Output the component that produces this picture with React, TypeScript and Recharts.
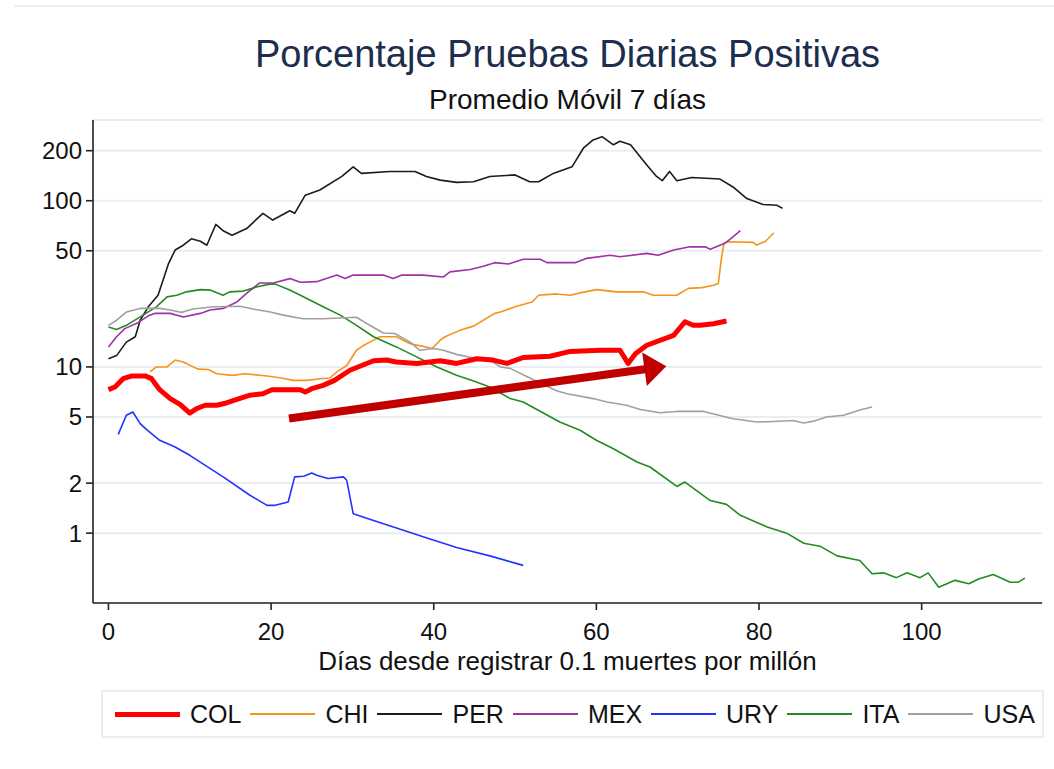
import React from 'react';
import { LineChart, Line, XAxis, YAxis, CartesianGrid, ReferenceLine } from 'recharts';

type Pt = [number, number];

// Days since 0.1 deaths per million -> % positive tests (7-day moving average)
const COL: Pt[] = [
  [0, 7.3], [0.8, 7.58], [1.8, 8.5], [2.9, 8.83], [4.5, 8.83], [5.3, 8.5], [6.3, 7.3], [7.6, 6.45],
  [8.8, 5.96], [10, 5.28], [10.8, 5.6], [11.9, 5.88], [13.3, 5.88], [14.5, 6.07], [15.8, 6.37],
  [17.4, 6.76], [19, 6.9], [20.1, 7.3], [23.6, 7.3], [24.2, 7.07], [25, 7.4], [26.4, 7.75],
  [27.8, 8.3], [29.7, 9.55], [32.6, 10.9], [34.2, 11], [35.4, 10.7], [37.9, 10.5], [40.8, 10.9],
  [42.8, 10.5], [45.3, 11.2], [47.3, 11], [49, 10.5], [51, 11.4], [54.3, 11.6], [56.8, 12.4],
  [60.5, 12.6], [62.9, 12.6], [63.9, 10.5], [64.8, 12], [66.2, 13.5], [69.5, 15.5], [70.9, 18.7],
  [71.9, 17.8], [72.8, 17.8], [74.4, 18.2], [76, 18.9],
];

const CHI: Pt[] = [
  [5.1, 9.33], [5.9, 10], [7.2, 10], [8.2, 11], [9.2, 10.7], [11, 9.7], [12.3, 9.65], [13.3, 9.1],
  [15.2, 8.9], [16.8, 9.1], [19.5, 8.83], [21.3, 8.58], [22.7, 8.3], [24.4, 8.3], [26, 8.5],
  [27.2, 8.58], [28.1, 9.33], [29.3, 10.2], [30.5, 12.6], [31.3, 13.4], [32.6, 14.5], [33.4, 15.2],
  [35.4, 15.2], [37.1, 13.8], [38.7, 13.3], [39.8, 12.9], [40.8, 14.5], [41.4, 15.2], [43.2, 16.6],
  [44.9, 17.6], [46.1, 19.1], [47.5, 21], [48.2, 21.4], [50.2, 23.2], [52.1, 24.6], [52.9, 27],
  [55.1, 27.5], [56.8, 27], [58, 27.9], [60, 29.2], [62.5, 28.3], [65.8, 28.3], [67, 27],
  [69.9, 27], [71.3, 29.7], [73, 30], [74.4, 31], [75, 31.8], [75.4, 46], [75.7, 55.4], [76, 56.6],
  [79.3, 56.2], [79.7, 54.1], [80.8, 57], [81.8, 64],
];

const PER: Pt[] = [
  [0, 11.2], [1, 11.7], [2.2, 14.1], [3.3, 15.2], [3.9, 19.1], [4.9, 23], [6.1, 27], [7.4, 42],
  [8.2, 50.5], [9.2, 54], [10.2, 59], [11.3, 57], [12.1, 54], [13.2, 72], [14.1, 66], [15.2, 62],
  [17, 68], [19, 84], [20.2, 76.5], [22.3, 87], [22.9, 84], [24.2, 108], [26, 116], [28.7, 140],
  [30.1, 160], [31.1, 146], [34.6, 150], [37.7, 150], [39.1, 140], [40.8, 133], [42.8, 129],
  [44.9, 130], [46.9, 140], [50, 143], [51.8, 130], [52.9, 130], [54.7, 146], [57, 160],
  [58.4, 207], [59.6, 232], [60.7, 243], [62.1, 217], [62.9, 228], [64.2, 217], [66.2, 164],
  [67.4, 140], [68.1, 132], [69, 150], [69.9, 132], [71.7, 138], [75.2, 135], [76.8, 121],
  [78.5, 103], [80.5, 95], [82.2, 94], [82.9, 90],
];

const MEX: Pt[] = [
  [0, 13.2], [1, 15.2], [2, 17], [3.5, 18.3], [4.9, 20.3], [5.7, 21], [7.6, 21], [9.2, 20],
  [11.3, 21], [12.5, 22], [14.1, 22.5], [15.8, 24.6], [17.2, 28.3], [18.6, 32], [20.3, 32],
  [22.3, 34], [23.6, 32.3], [25.6, 32.6], [28.1, 35.7], [29.1, 34], [30.1, 35.7], [33.8, 35.7],
  [35, 34], [36.1, 35.7], [38.7, 35.7], [41.2, 34.8], [42, 37.3], [44.5, 38.6], [46.1, 40.4],
  [47.5, 42.4], [49.2, 41.6], [51, 44.5], [53.1, 44.5], [53.9, 42.4], [57.4, 42.4], [58.8, 45],
  [61.7, 47], [62.9, 46], [66.2, 48.2], [67.6, 47], [69.5, 50.5], [71.5, 52.8], [73.4, 52.8],
  [74, 51], [75.8, 55.4], [76.8, 60.7], [77.7, 66],
];

const URY: Pt[] = [
  [1.2, 3.93], [2.2, 5.12], [3, 5.36], [3.9, 4.56], [4.7, 4.2], [6.3, 3.62], [8.2, 3.3], [10, 2.94],
  [14.1, 2.18], [17.4, 1.69], [19.5, 1.47], [20.5, 1.47], [22.1, 1.54], [22.9, 2.18], [24, 2.2],
  [25, 2.3], [25.6, 2.23], [27, 2.13], [28.9, 2.18], [29.3, 2.08], [30.1, 1.31], [32.6, 1.19],
  [38.7, 0.95], [42.8, 0.82], [46.9, 0.73], [51, 0.64],
];

const ITA: Pt[] = [
  [0, 17.4], [1, 16.8], [2.2, 17.8], [3.9, 20], [5.9, 23], [7.2, 26.4], [8.4, 27], [9.6, 28.3],
  [11.3, 29.2], [12.5, 29], [14.1, 27], [14.9, 28.3], [16.6, 28.6], [18.2, 30.3], [19.8, 31.5],
  [20.5, 31.5], [22.3, 29], [24.4, 25.8], [26.4, 23], [28.5, 20.5], [30.5, 17.8], [32.6, 15.2],
  [35.4, 13.2], [37.9, 11.5], [40.4, 10], [42.8, 8.9], [44.9, 8.24], [46.9, 7.58], [49.4, 6.45],
  [51, 6.15], [55.5, 4.66], [58, 4.16], [60, 3.62], [62.1, 3.22], [65, 2.68], [66.6, 2.5],
  [69.9, 1.91], [70.9, 2.03], [74, 1.57], [76, 1.49], [77.7, 1.28], [81, 1.09], [83.4, 1.0],
  [85.5, 0.87], [87.5, 0.835], [89.6, 0.73], [92.4, 0.685], [93.9, 0.57], [95.3, 0.577],
  [96.9, 0.54], [98.2, 0.577], [99.8, 0.54], [100.8, 0.577], [102.1, 0.473], [104.1, 0.52],
  [105.8, 0.496], [107, 0.53], [108.8, 0.564], [110.9, 0.507], [111.9, 0.507], [112.7, 0.536],
];

const USA: Pt[] = [
  [0, 17.8], [1, 19.1], [2.2, 21.4], [3.9, 22.5], [6.3, 22.5], [7.6, 22], [9, 21.3], [10.4, 22.3],
  [12.9, 23], [16.2, 23.2], [17.8, 22.3], [19.9, 21.4], [21.5, 20.5], [23.9, 19.5], [26.4, 19.5],
  [30.5, 19.9], [31.8, 18.2], [33.8, 16], [35.2, 15.9], [37.1, 14.1], [38.3, 12.6], [40, 12.9],
  [41.2, 12.6], [42.8, 11.9], [45.3, 11.2], [46.9, 11], [48.2, 10], [49.4, 9.8], [51.5, 8.72],
  [55.1, 7.2], [56.4, 6.9], [59.6, 6.45], [61.3, 6.15], [63.7, 5.88], [65.4, 5.54], [67.8, 5.3],
  [69.9, 5.4], [73.2, 5.4], [76.8, 4.88], [79.7, 4.66], [81.8, 4.7], [84.2, 4.76], [85.5, 4.6],
  [86.7, 4.72], [88.3, 5.0], [90.4, 5.12], [92.4, 5.5], [93.9, 5.74],
];

const X_TICKS = [0, 20, 40, 60, 80, 100];
const Y_TICKS = [1, 2, 5, 10, 50, 100, 200];
const ARROW_FROM = { x: 22.2, y: 4.9 };
const ARROW_TO = { x: 68.6, y: 10.1 };

const TITLE = 'Porcentaje Pruebas Diarias Positivas';
const SUBTITLE = 'Promedio Móvil 7 días';
const X_LABEL = 'Días desde registrar 0.1 muertes por millón';

const SERIES = [
  { name: 'COL', points: COL, color: '#ff0000', width: 5 },
  { name: 'CHI', points: CHI, color: '#f5931e', width: 1.6 },
  { name: 'PER', points: PER, color: '#1c1c1c', width: 1.6 },
  { name: 'MEX', points: MEX, color: '#a030a8', width: 1.6 },
  { name: 'URY', points: URY, color: '#2233ff', width: 1.6 },
  { name: 'ITA', points: ITA, color: '#228b22', width: 1.6 },
  { name: 'USA', points: USA, color: '#a0a0a0', width: 1.6 },
];

const FONT = '"Liberation Sans", Arial, sans-serif';

const ArrowShape = (props: any) => {
  const { x1, y1, x2, y2 } = props;
  const dx = x2 - x1;
  const dy = y2 - y1;
  const len = Math.hypot(dx, dy) || 1;
  const ux = dx / len;
  const uy = dy / len;
  const head = 22;
  const half = 17;
  const bx = x2 - ux * head;
  const by = y2 - uy * head;
  const px = -uy;
  const py = ux;
  return (
    <g>
      <line x1={x1} y1={y1} x2={bx + ux * 2} y2={by + uy * 2} stroke="#c00000" strokeWidth={8} />
      <polygon
        points={`${x2},${y2} ${bx + px * half},${by + py * half} ${bx - px * half},${by - py * half}`}
        fill="#c00000"
      />
    </g>
  );
};

export default function App() {
  const drawOrder = [...SERIES.slice(1), SERIES[0]];
  return (
    <div style={{ position: 'absolute', left: 0, top: 0, width: 1054, height: 769, background: '#fff', fontFamily: FONT, overflow: 'hidden' }}>
      <div style={{ position: 'absolute', left: 14, top: 5, width: 1040, height: 0, borderTop: '2px solid #eaf0f3' }} />
      <div style={{ position: 'absolute', left: 93, width: 949, top: 35, fontSize: 38, lineHeight: '38px', textAlign: 'center', color: '#1c2d4d', whiteSpace: 'nowrap' }}>
        {TITLE}
      </div>
      <div style={{ position: 'absolute', left: 93, width: 949, top: 86, fontSize: 28, lineHeight: '28px', textAlign: 'center', color: '#111', whiteSpace: 'nowrap' }}>
        {SUBTITLE}
      </div>
      <LineChart width={1054} height={769} margin={{ top: 120, right: 12, bottom: 126, left: 33 }}>
        <CartesianGrid vertical={false} stroke="#e8eff2" strokeWidth={2} />
        <XAxis
          type="number"
          dataKey="x"
          domain={[-1.9, 114.8]}
          ticks={X_TICKS}
          allowDataOverflow
          height={40}
          tickSize={7}
          tickMargin={13}
          tick={{ fontSize: 24, fill: '#111', fontFamily: FONT }}
          axisLine={{ stroke: '#222', strokeWidth: 1.6 }}
          tickLine={{ stroke: '#222', strokeWidth: 1.6 }}
        />
        <YAxis
          type="number"
          dataKey="y"
          scale="log"
          domain={[0.38, 306]}
          ticks={Y_TICKS}
          allowDataOverflow
          width={60}
          tickSize={7}
          tickMargin={4}
          tick={{ fontSize: 24, fill: '#111', fontFamily: FONT }}
          axisLine={{ stroke: '#222', strokeWidth: 1.6 }}
          tickLine={{ stroke: '#222', strokeWidth: 1.6 }}
        />
        {drawOrder.map((s) => (
          <Line
            key={s.name}
            name={s.name}
            data={s.points.map(([x, y]) => ({ x, y }))}
            dataKey="y"
            type="linear"
            stroke={s.color}
            strokeWidth={s.width}
            dot={false}
            activeDot={false}
            strokeLinejoin="round"
            isAnimationActive={false}
          />
        ))}
        <ReferenceLine
          segment={[ARROW_FROM, ARROW_TO]}
          stroke="#c00000"
          shape={ArrowShape}
          ifOverflow="visible"
        />
      </LineChart>
      <div style={{ position: 'absolute', left: 93, width: 949, top: 652, height: 18, fontSize: 26, lineHeight: '18px', textAlign: 'center', color: '#111', whiteSpace: 'nowrap' }}>
        {X_LABEL}
      </div>
      <div
        style={{
          position: 'absolute', left: 101, top: 690, width: 927, height: 44,
          border: '2px solid #e8eff2', display: 'flex', alignItems: 'center', paddingLeft: 12,
          boxSizing: 'content-box', whiteSpace: 'nowrap',
        }}
      >
        {SERIES.map((s) => (
          <div key={s.name} style={{ display: 'flex', alignItems: 'center', marginRight: 9, flexShrink: 0 }}>
            <div style={{ width: 65, height: s.width, background: s.color }} />
            <span style={{ marginLeft: 10, fontSize: 25, lineHeight: '25px', color: '#111' }}>{s.name}</span>
          </div>
        ))}
      </div>
    </div>
  );
}
